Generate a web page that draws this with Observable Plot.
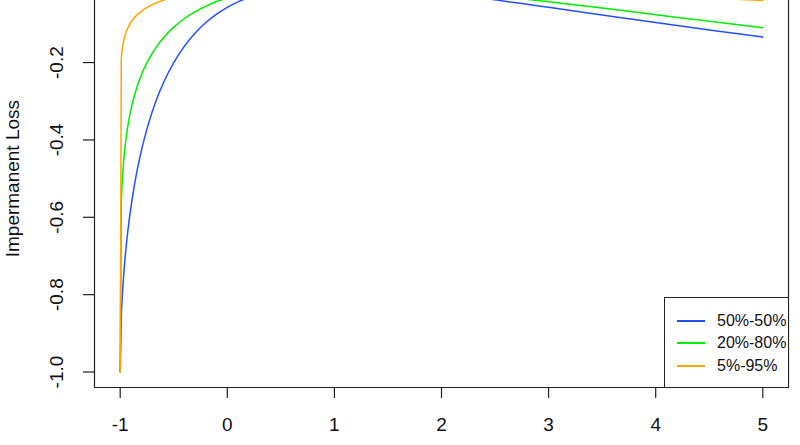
<!DOCTYPE html>
<html><head><meta charset="utf-8">
<script src="https://cdn.jsdelivr.net/npm/d3@7"></script>
<script src="https://cdn.jsdelivr.net/npm/@observablehq/plot@0.6"></script>
<style>
body{margin:0;background:#fff;font-family:"Liberation Sans",Arial,Helvetica,sans-serif;}
#wrap{position:relative;width:800px;height:445px;overflow:hidden;background:#fff;}
#legend{position:absolute;left:664px;top:297px;width:125px;height:91px;border:1px solid #222;background:#fff;box-sizing:border-box;}
.item{position:absolute;left:0;height:20px;display:flex;align-items:center;font-size:16px;color:#111;white-space:nowrap;}
.sw{display:inline-block;width:28px;height:2px;margin-left:12px;margin-right:12px;}
</style></head><body><div id="wrap"><div id="legend"></div></div>
<script>
// price change (x) and impermanent loss values
const priceChange = [-1, -0.99, -0.98, -0.97, -0.96, -0.95, -0.94, -0.92, -0.9, -0.87, -0.84, -0.8, -0.75, -0.7, -0.65, -0.6, -0.5, -0.4, -0.3, -0.2, -0.1, 0, 0.1, 0.2, 0.3, 0.5, 0.75, 1, 1.5, 2, 2.25, 2.5, 2.75, 3, 3.5, 4, 4.5, 5];
const loss5050 = [-1, -0.8593, -0.8020, -0.7587, -0.7227, -0.6915, -0.6637, -0.6154, -0.5741, -0.5212, -0.4762, -0.4250, -0.3715, -0.3264, -0.2879, -0.2546, -0.2000, -0.1574, -0.1235, -0.0965, -0.0747, -0.0572, -0.0431, -0.0318, -0.0228, -0.0103, -0.0022, 0, -0.0062, -0.0202, -0.0288, -0.0379, -0.0474, -0.0572, -0.0769, -0.0965, -0.1156, -0.1340];
const loss2080 = [-1, -0.5673, -0.5036, -0.4623, -0.4312, -0.4060, -0.3847, -0.3499, -0.3219, -0.2880, -0.2605, -0.2305, -0.2003, -0.1756, -0.1549, -0.1372, -0.1084, -0.0860, -0.0683, -0.0539, -0.0422, -0.0327, -0.0249, -0.0186, -0.0135, -0.0062, -0.0014, 0, -0.0042, -0.0141, -0.0205, -0.0275, -0.0349, -0.0428, -0.0591, -0.0761, -0.0932, -0.1102];
const loss0595 = [-1, -0.1926, -0.1643, -0.1474, -0.1353, -0.1258, -0.1180, -0.1057, -0.0962, -0.0850, -0.0761, -0.0668, -0.0575, -0.0501, -0.0440, -0.0389, -0.0306, -0.0243, -0.0193, -0.0152, -0.0120, -0.0093, -0.0071, -0.0053, -0.0039, -0.0018, -0.0004, 0, -0.0013, -0.0044, -0.0066, -0.0088, -0.0113, -0.0140, -0.0199, -0.0262, -0.0328, -0.0396];
const seriesNames = ["50%-50%", "20%-80%", "5%-95%"];
const seriesColors = ["#2350ff", "#00ee00", "#ffa500"];
const xTicks = [-1, 0, 1, 2, 3, 4, 5];
const yTicks = [-1.0, -0.8, -0.6, -0.4, -0.2];
const yLabel = "Impermanent Loss";
</script>
<script>
const seriesValues = [loss5050, loss2080, loss0595];
const rows = [];
seriesNames.forEach((name, i) => {
  priceChange.forEach((x, j) => rows.push({series: name, x, y: seriesValues[i][j]}));
});

const font = '"Liberation Sans", Arial, Helvetica, sans-serif';
const chart = Plot.plot({
  width: 800,
  height: 445,
  marginLeft: 94,
  marginRight: 12,
  marginTop: 0,
  marginBottom: 58,
  style: {fontFamily: font, fontSize: "19px", background: "#fff", color: "#222"},
  x: {domain: [-1.24, 5.24]},
  y: {domain: [-1.04, -0.0395]},
  color: {domain: seriesNames, range: seriesColors},
  marks: [
    Plot.line(rows, {x: "x", y: "y", z: "series", stroke: "series", strokeWidth: 1.5, curve: "monotone-x", clip: true}),
    Plot.ruleX([-1.24, 5.24], {stroke: "#222", strokeWidth: 1.2}),
    Plot.ruleY([-1.04], {stroke: "#222", strokeWidth: 1.2}),
    Plot.axisX({ticks: xTicks, tickSize: 11, fill: "none", stroke: "#222", strokeWidth: 1.2, label: null}),
    Plot.axisY({ticks: yTicks, tickSize: 11, fill: "none", stroke: "#222", strokeWidth: 1.2, label: null}),
    Plot.text(xTicks, {x: d => d, text: d => String(d), frameAnchor: "bottom", dy: 37.5, lineAnchor: "middle", textAnchor: "middle", fill: "#111", fontSize: 19}),
    Plot.text(yTicks, {y: d => d, text: d => d.toFixed(1), frameAnchor: "left", dx: -38, rotate: -90, textAnchor: "middle", lineAnchor: "middle", fill: "#111", fontSize: 19}),
    Plot.text([yLabel], {y: () => -0.5, text: d => d, frameAnchor: "left", dx: -82, rotate: -90, textAnchor: "middle", lineAnchor: "middle", fill: "#111", fontSize: 19})
  ]
});
const wrap = document.getElementById("wrap");
wrap.insertBefore(chart, wrap.firstChild);

const legend = document.getElementById("legend");
const legendTops = [13, 35, 58];
seriesNames.forEach((name, i) => {
  const item = document.createElement("div");
  item.className = "item";
  item.style.top = legendTops[i] + "px";
  const sw = document.createElement("span");
  sw.className = "sw";
  sw.style.background = seriesColors[i];
  const label = document.createElement("span");
  label.textContent = name;
  item.appendChild(sw);
  item.appendChild(label);
  legend.appendChild(item);
});
</script>
</body></html>
